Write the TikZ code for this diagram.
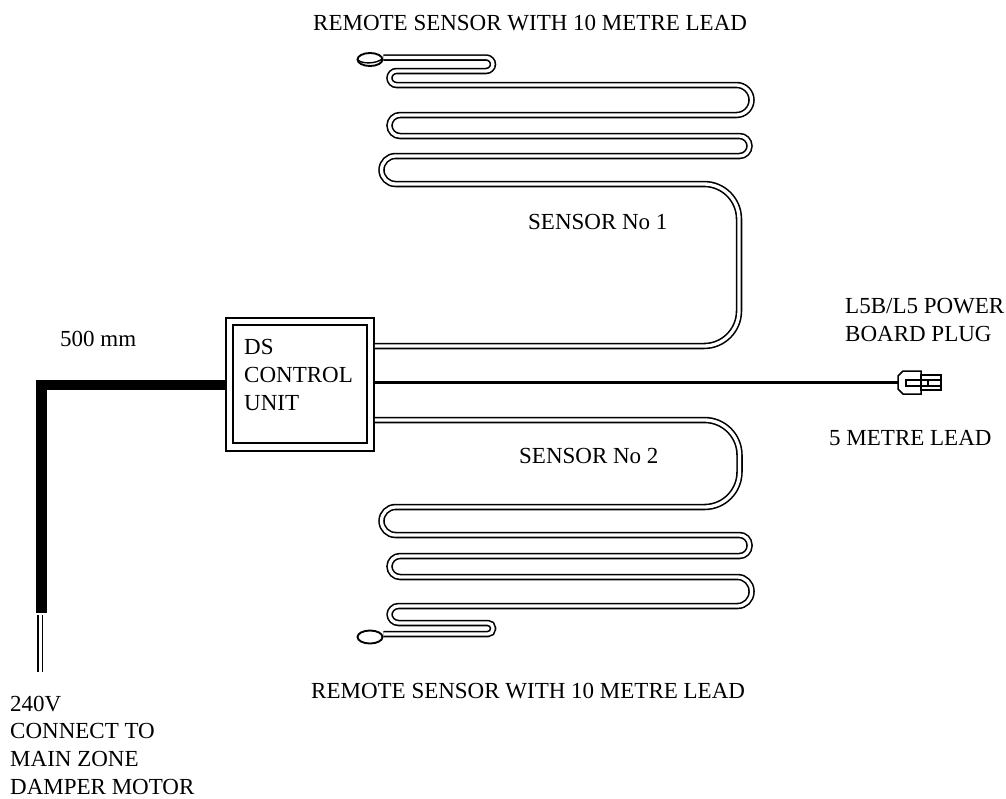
\documentclass[tikz,border=0pt]{standalone}
\usepackage{fontspec}
\setmainfont{Liberation Serif}
\usetikzlibrary{shapes.geometric}
\newcommand\lblsize{\fontsize{23}{27.7}\selectfont}
% one bend of the sensor lead: radius, then the two corners
\newcommand\bend[3]{[rounded corners=#1] -- #2 -- #3}
\tikzset{
  wire/.style={draw, line width=1.6pt, double=white, double distance=3.3pt},
  lbl/.style={font=\lblsize, inner sep=0, anchor=base west},
  lblm/.style={font=\lblsize, inner sep=0, anchor=north west, align=left},
  head/.style={draw, ellipse, line width=1.9pt, inner sep=0, minimum width=25pt, minimum height=13pt},
}
\begin{document}
\begin{tikzpicture}[x=1pt, y=-1pt]
    \useasboundingbox (0,0) rectangle (1006,798);

    % control unit
    \node[draw, line width=1.5pt, minimum width=148pt, minimum height=133pt, inner sep=0] (ctrl) at (300,384.5) {};
    \node[draw, line width=1.5pt, minimum width=134pt, minimum height=118pt, inner sep=0] (inner) at (300,384) {};
    \node[lblm] (ctrltxt) at (244,339.5) {DS\\CONTROL\\UNIT};

    % sensor 1, from the box up to its head
    \node[head] (head1) at (370,59.5) {};
    \draw[line width=1.4pt] (358,60) .. controls (362,64) and (376,64) .. (382,59);
    \coordinate (out1) at (ctrl.east |- 0,346);
    \draw[wire] (head1.east |- 0,57.5) \bend{7pt}{(493,57.5)}{(493,71)}
        -- (389.5,71) -- (389.5,85)
        \bend{15pt}{(751.5,85)}{(751.5,115)}
        \bend{10.5pt}{(389.5,115)}{(389.5,136)}
        \bend{10pt}{(749.5,136)}{(749.5,156)}
        \bend{14pt}{(381.5,156)}{(381.5,184)}
        \bend{35pt}{(739,184)}{(739,346)} -- (out1);

    % sensor 2
    \node[head] (head2) at (370,637) {};
    \coordinate (out2) at (ctrl.east |- 0,420);
    \draw[wire] (out2) \bend{35pt}{(739.5,420)}{(739.5,507)}
        \bend{14pt}{(381.5,507)}{(381.5,535)}
        \bend{10pt}{(749.5,535)}{(749.5,556)}
        \bend{10.5pt}{(389.5,556)}{(389.5,577)}
        \bend{14pt}{(751.5,577)}{(751.5,606)}
        \bend{9pt}{(389.5,606)}{(389.5,623)}
        \bend{5pt}{(493,623)}{(493,634)} -- (head2.east |- 0,634);

    % lead to the plug
    \coordinate (plugin) at (898,382.5);
    \draw[line width=2.6pt] (ctrl.east |- plugin) -- (plugin);

    % plug
    \draw[line width=1.5pt] (921,371) -- (903,371) -- (898,376) -- (898,389) -- (903,394) -- (921,394) -- cycle;
    \draw[line width=1.5pt] (941,380) -- (906,380) -- (906,386) -- (941,386);
    \draw[line width=2pt] (921,375) rectangle (941,390);
    \draw[line width=1.5pt] (928,380) -- (928,386);

    % damper cable
    \coordinate (cblcorner) at (41.5,385);
    \coordinate (cblend) at (41.5,613);
    \draw[line width=10.5pt, line join=miter] (ctrl.west |- cblcorner) -- (cblcorner) -- (cblend);
    \draw[line width=1.6pt] (38,615) -- (38,672);
    \draw[line width=1.6pt] (42.5,615) -- (42.5,672);

    % labels
    \node[lbl] (top) at (313,30) {REMOTE SENSOR WITH 10 METRE LEAD};
    \node[lbl] (bot) at (311,698) {REMOTE SENSOR WITH 10 METRE LEAD};
    \node[lbl] (s1) at (528,229) {SENSOR No 1};
    \node[lbl] (s2) at (519,463) {SENSOR No 2};
    \node[lbl] (len) at (60,346) {500 mm};
    \node[lblm] (pwr) at (845,298) {L5B/L5 POWER\\BOARD PLUG};
    \node[lbl] (five) at (829,445) {5 METRE LEAD};
    \node[lblm] (mains) at (10,695.5) {240V\\CONNECT TO\\MAIN ZONE\\DAMPER MOTOR};
\end{tikzpicture}
\end{document}
